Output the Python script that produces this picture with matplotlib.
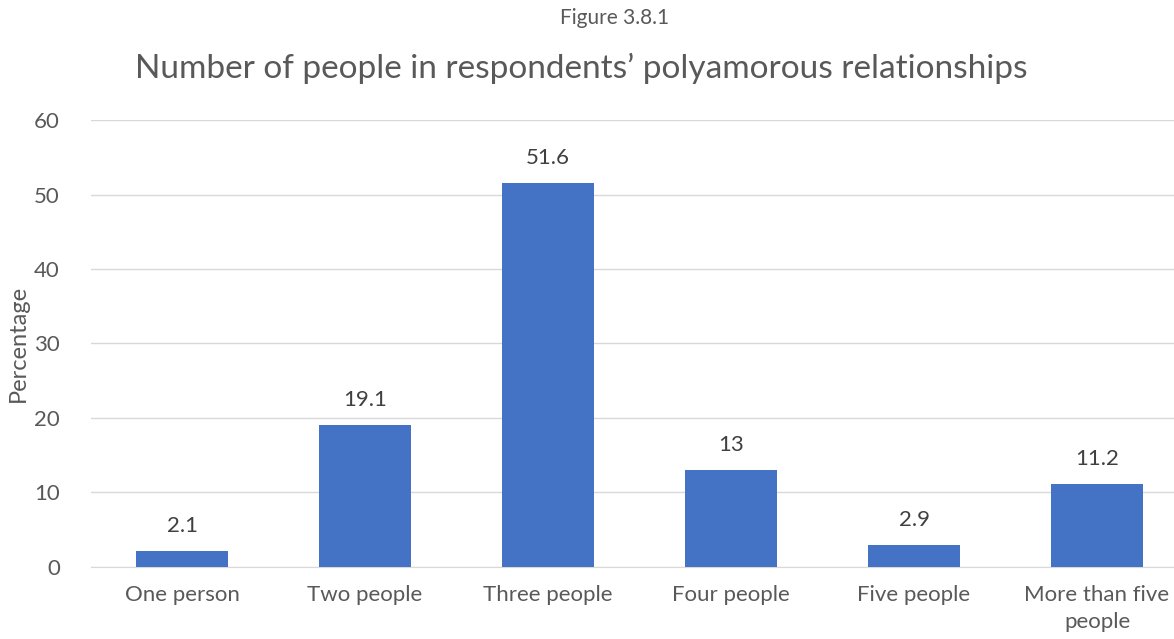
import matplotlib.pyplot as plt

# data
categories = ['One person', 'Two people', 'Three people', 'Four people', 'Five people', 'More than five\npeople']
values = [2.1, 19.1, 51.6, 13, 2.9, 11.2]
value_labels = ['2.1', '19.1', '51.6', '13', '2.9', '11.2']
yticks = [0, 10, 20, 30, 40, 50, 60]

plt.rcParams['font.family'] = ['Lato', 'DejaVu Sans']
text_color = '#595959'

fig = plt.figure(figsize=(11.74, 6.39), dpi=100)
# axes runs a little past the right edge, as in the original
ax = fig.add_axes([0.0771, 0.1127, 0.9353, 0.6995])

x = range(len(categories))
ax.bar(x, values, width=0.5, color='#4472C4', zorder=3)
for i, v in enumerate(values):
    ax.text(i, v + 2.0, value_labels[i], ha='center', va='bottom', fontsize=16, color='#404040')

ax.set_xlim(-0.5, len(categories) - 0.5)
ax.set_ylim(0, 60)
ax.set_yticks(yticks)
ax.set_xticks(list(x))
ax.set_xticklabels(categories, fontsize=16, color=text_color, linespacing=1.45)
ax.tick_params(axis='y', labelsize=16, labelcolor=text_color, length=0, pad=22)
ax.tick_params(axis='x', length=0, pad=13)
ax.yaxis.grid(True, color='#D9D9D9', linewidth=1, zorder=0)
for s in ['top', 'right', 'left']:
    ax.spines[s].set_visible(False)
ax.spines['bottom'].set_color('#D9D9D9')

ax.set_ylabel('Percentage', fontsize=17, color=text_color, labelpad=4)

fig.text(615 / 1174, 1 - 18 / 639, 'Figure 3.8.1', ha='center', va='center', fontsize=15, color=text_color)
fig.text(581 / 1174, 1 - 68 / 639, 'Number of people in respondents\u2019 polyamorous relationships',
         ha='center', va='center', fontsize=24, color=text_color)

plt.savefig('out.png', dpi=100)
